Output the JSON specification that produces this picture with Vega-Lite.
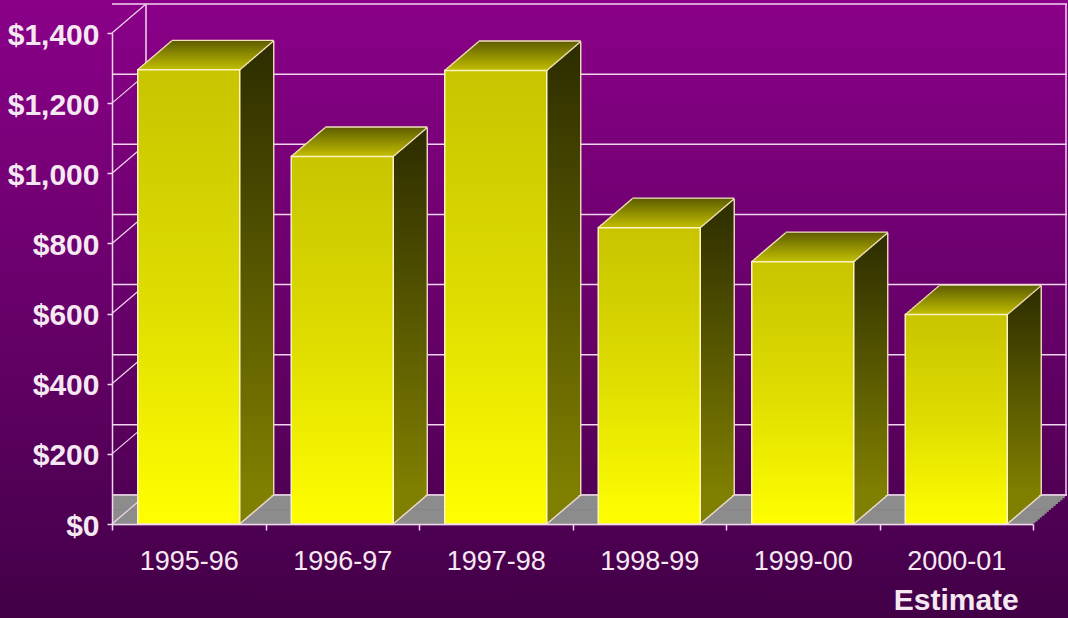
{
  "$schema": "https://vega.github.io/schema/vega-lite/v6.json",
  "width": 921,
  "height": 491,
  "autosize": "none",
  "padding": {"left": 112, "top": 33, "right": 35, "bottom": 94},
  "background": "#5a0062",
  "config": {
    "view": {"stroke": null},
    "axis": {"grid": false, "domainColor": "#f2d6f0", "domainWidth": 1.5, "tickColor": "#f2d6f0", "tickWidth": 1.5, "labelColor": "#f6e8f2", "labelFont": "Liberation Sans"}
  },
  "datasets": {
    "budget": [
      {"year": "1995-96", "value": 1295},
      {"year": "1996-97", "value": 1048},
      {"year": "1997-98", "value": 1293},
      {"year": "1998-99", "value": 845},
      {"year": "1999-00", "value": 748},
      {"year": "2000-01", "value": 597}
    ],
    "grid": [{"v": 0}, {"v": 200}, {"v": 400}, {"v": 600}, {"v": 800}, {"v": 1000}, {"v": 1200}, {"v": 1400}]
  },
  "layer": [
    {
      "data": {"values": [{}]},
      "mark": {"type": "rect", "x": -112, "x2": 956, "y": -33, "y2": 585, "opacity": 1,
        "fill": {"gradient": "linear", "x1": 0, "y1": 0, "x2": 0, "y2": 1, "stops": [{"offset": 0, "color": "#8a0088"}, {"offset": 0.5, "color": "#68006a"}, {"offset": 1, "color": "#420047"}]}},
      "encoding": {}
    },
    {
      "data": {"values": [{}]},
      "layer": [
        {"mark": {"type": "rule", "color": "#8c8c8c", "strokeWidth": 2.6, "xOffset": 0, "yOffset": 0}},
        {"mark": {"type": "rule", "color": "#8c8c8c", "strokeWidth": 2.6, "xOffset": 2.27, "yOffset": -1.93}},
        {"mark": {"type": "rule", "color": "#8c8c8c", "strokeWidth": 2.6, "xOffset": 4.53, "yOffset": -3.87}},
        {"mark": {"type": "rule", "color": "#8c8c8c", "strokeWidth": 2.6, "xOffset": 6.8, "yOffset": -5.8}},
        {"mark": {"type": "rule", "color": "#8c8c8c", "strokeWidth": 2.6, "xOffset": 9.07, "yOffset": -7.73}},
        {"mark": {"type": "rule", "color": "#8c8c8c", "strokeWidth": 2.6, "xOffset": 11.33, "yOffset": -9.67}},
        {"mark": {"type": "rule", "color": "#8c8c8c", "strokeWidth": 2.6, "xOffset": 13.6, "yOffset": -11.6}},
        {"mark": {"type": "rule", "color": "#8c8c8c", "strokeWidth": 2.6, "xOffset": 15.87, "yOffset": -13.53}},
        {"mark": {"type": "rule", "color": "#8c8c8c", "strokeWidth": 2.6, "xOffset": 18.13, "yOffset": -15.47}},
        {"mark": {"type": "rule", "color": "#8c8c8c", "strokeWidth": 2.6, "xOffset": 20.4, "yOffset": -17.4}},
        {"mark": {"type": "rule", "color": "#8c8c8c", "strokeWidth": 2.6, "xOffset": 22.67, "yOffset": -19.33}},
        {"mark": {"type": "rule", "color": "#8c8c8c", "strokeWidth": 2.6, "xOffset": 24.93, "yOffset": -21.27}},
        {"mark": {"type": "rule", "color": "#8c8c8c", "strokeWidth": 2.6, "xOffset": 27.2, "yOffset": -23.2}},
        {"mark": {"type": "rule", "color": "#8c8c8c", "strokeWidth": 2.6, "xOffset": 29.47, "yOffset": -25.13}},
        {"mark": {"type": "rule", "color": "#8c8c8c", "strokeWidth": 2.6, "xOffset": 31.73, "yOffset": -27.07}},
        {"mark": {"type": "rule", "color": "#8c8c8c", "strokeWidth": 2.2, "xOffset": 34, "yOffset": -29}}
      ],
      "encoding": {"y": {"datum": 0, "type": "quantitative"}}
    },
    {
      "data": {"name": "grid"},
      "mark": {"type": "rule", "color": "#f2d6f0", "strokeWidth": 1.5, "xOffset": 34, "yOffset": -29},
      "encoding": {"y": {"field": "v", "type": "quantitative"}}
    },
    {
      "data": {"name": "grid"},
      "mark": {"type": "rule", "color": "#f2d6f0", "strokeWidth": 1.2, "y2Offset": -29},
      "encoding": {"x": {"value": 0}, "x2": {"value": 34}, "y": {"field": "v", "type": "quantitative"}, "y2": {"field": "v"}}
    },
    {
      "data": {"values": [{}]},
      "mark": {"type": "rule", "color": "#f2d6f0", "strokeWidth": 1.5, "xOffset": 34, "yOffset": -29, "y2Offset": -29},
      "encoding": {"x": {"value": 0}, "y": {"datum": 0, "type": "quantitative"}, "y2": {"datum": 1400}}
    },
    {
      "data": {"values": [{}]},
      "mark": {"type": "rule", "color": "#f2d6f0", "strokeWidth": 1.5, "xOffset": 33, "yOffset": -29, "y2Offset": -29},
      "encoding": {"x": {"value": "width"}, "y": {"datum": 0, "type": "quantitative"}, "y2": {"datum": 1400}}
    },
    {
      "data": {"name": "budget"},
      "encoding": {
        "x": {"field": "year", "type": "nominal", "sort": null,
          "scale": {"domain": ["1995-96", "1996-97", "1997-98", "1998-99", "1999-00", "2000-01"], "paddingInner": 0, "paddingOuter": 0},
          "axis": {"zindex": 1, "title": null, "labelAngle": 0, "labelAlign": "center", "labelFontSize": 27, "tickSize": 6, "labelPadding": 18, "tickBand": "extent"}},
        "y": {"field": "value", "type": "quantitative",
          "scale": {"domain": [0, 1400], "nice": false},
          "axis": {"zindex": 1, "title": null, "values": [0, 200, 400, 600, 800, 1000, 1200, 1400], "format": "$,.0f", "labelFontSize": 30, "labelFontWeight": "bold", "tickSize": 5, "labelPadding": 8, "labelOffset": 2}}
      },
      "layer": [
        {"mark": {"type": "bar", "width": 102, "opacity": 1, "xOffset": 2.27, "yOffset": -1.93, "y2Offset": -1.93, "fill": {"gradient": "linear", "x1": 0, "y1": 0, "x2": 0, "y2": 1, "stops": [{"offset": 0, "color": "#2c2c00"}, {"offset": 1, "color": "#808000"}]}}},
        {"mark": {"type": "bar", "width": 102, "opacity": 1, "xOffset": 4.53, "yOffset": -3.87, "y2Offset": -3.87, "fill": {"gradient": "linear", "x1": 0, "y1": 0, "x2": 0, "y2": 1, "stops": [{"offset": 0, "color": "#2c2c00"}, {"offset": 1, "color": "#808000"}]}}},
        {"mark": {"type": "bar", "width": 102, "opacity": 1, "xOffset": 6.8, "yOffset": -5.8, "y2Offset": -5.8, "fill": {"gradient": "linear", "x1": 0, "y1": 0, "x2": 0, "y2": 1, "stops": [{"offset": 0, "color": "#2c2c00"}, {"offset": 1, "color": "#808000"}]}}},
        {"mark": {"type": "bar", "width": 102, "opacity": 1, "xOffset": 9.07, "yOffset": -7.73, "y2Offset": -7.73, "fill": {"gradient": "linear", "x1": 0, "y1": 0, "x2": 0, "y2": 1, "stops": [{"offset": 0, "color": "#2c2c00"}, {"offset": 1, "color": "#808000"}]}}},
        {"mark": {"type": "bar", "width": 102, "opacity": 1, "xOffset": 11.33, "yOffset": -9.67, "y2Offset": -9.67, "fill": {"gradient": "linear", "x1": 0, "y1": 0, "x2": 0, "y2": 1, "stops": [{"offset": 0, "color": "#2c2c00"}, {"offset": 1, "color": "#808000"}]}}},
        {"mark": {"type": "bar", "width": 102, "opacity": 1, "xOffset": 13.6, "yOffset": -11.6, "y2Offset": -11.6, "fill": {"gradient": "linear", "x1": 0, "y1": 0, "x2": 0, "y2": 1, "stops": [{"offset": 0, "color": "#2c2c00"}, {"offset": 1, "color": "#808000"}]}}},
        {"mark": {"type": "bar", "width": 102, "opacity": 1, "xOffset": 15.87, "yOffset": -13.53, "y2Offset": -13.53, "fill": {"gradient": "linear", "x1": 0, "y1": 0, "x2": 0, "y2": 1, "stops": [{"offset": 0, "color": "#2c2c00"}, {"offset": 1, "color": "#808000"}]}}},
        {"mark": {"type": "bar", "width": 102, "opacity": 1, "xOffset": 18.13, "yOffset": -15.47, "y2Offset": -15.47, "fill": {"gradient": "linear", "x1": 0, "y1": 0, "x2": 0, "y2": 1, "stops": [{"offset": 0, "color": "#2c2c00"}, {"offset": 1, "color": "#808000"}]}}},
        {"mark": {"type": "bar", "width": 102, "opacity": 1, "xOffset": 20.4, "yOffset": -17.4, "y2Offset": -17.4, "fill": {"gradient": "linear", "x1": 0, "y1": 0, "x2": 0, "y2": 1, "stops": [{"offset": 0, "color": "#2c2c00"}, {"offset": 1, "color": "#808000"}]}}},
        {"mark": {"type": "bar", "width": 102, "opacity": 1, "xOffset": 22.67, "yOffset": -19.33, "y2Offset": -19.33, "fill": {"gradient": "linear", "x1": 0, "y1": 0, "x2": 0, "y2": 1, "stops": [{"offset": 0, "color": "#2c2c00"}, {"offset": 1, "color": "#808000"}]}}},
        {"mark": {"type": "bar", "width": 102, "opacity": 1, "xOffset": 24.93, "yOffset": -21.27, "y2Offset": -21.27, "fill": {"gradient": "linear", "x1": 0, "y1": 0, "x2": 0, "y2": 1, "stops": [{"offset": 0, "color": "#2c2c00"}, {"offset": 1, "color": "#808000"}]}}},
        {"mark": {"type": "bar", "width": 102, "opacity": 1, "xOffset": 27.2, "yOffset": -23.2, "y2Offset": -23.2, "fill": {"gradient": "linear", "x1": 0, "y1": 0, "x2": 0, "y2": 1, "stops": [{"offset": 0, "color": "#2c2c00"}, {"offset": 1, "color": "#808000"}]}}},
        {"mark": {"type": "bar", "width": 102, "opacity": 1, "xOffset": 29.47, "yOffset": -25.13, "y2Offset": -25.13, "fill": {"gradient": "linear", "x1": 0, "y1": 0, "x2": 0, "y2": 1, "stops": [{"offset": 0, "color": "#2c2c00"}, {"offset": 1, "color": "#808000"}]}}},
        {"mark": {"type": "bar", "width": 102, "opacity": 1, "xOffset": 31.73, "yOffset": -27.07, "y2Offset": -27.07, "fill": {"gradient": "linear", "x1": 0, "y1": 0, "x2": 0, "y2": 1, "stops": [{"offset": 0, "color": "#2c2c00"}, {"offset": 1, "color": "#808000"}]}}},
        {"mark": {"type": "bar", "width": 102, "opacity": 1, "xOffset": 34, "yOffset": -29, "y2Offset": -29, "fill": {"gradient": "linear", "x1": 0, "y1": 0, "x2": 0, "y2": 1, "stops": [{"offset": 0, "color": "#2c2c00"}, {"offset": 1, "color": "#808000"}]}}},
        {"mark": {"type": "tick", "orient": "horizontal", "size": 102, "thickness": 2.8, "opacity": 1, "color": "#c4c000", "xOffset": 0, "yOffset": 0}},
        {"mark": {"type": "tick", "orient": "horizontal", "size": 102, "thickness": 2.8, "opacity": 1, "color": "#bdba00", "xOffset": 2.27, "yOffset": -1.93}},
        {"mark": {"type": "tick", "orient": "horizontal", "size": 102, "thickness": 2.8, "opacity": 1, "color": "#b7b300", "xOffset": 4.53, "yOffset": -3.87}},
        {"mark": {"type": "tick", "orient": "horizontal", "size": 102, "thickness": 2.8, "opacity": 1, "color": "#b0ad00", "xOffset": 6.8, "yOffset": -5.8}},
        {"mark": {"type": "tick", "orient": "horizontal", "size": 102, "thickness": 2.8, "opacity": 1, "color": "#a9a600", "xOffset": 9.07, "yOffset": -7.73}},
        {"mark": {"type": "tick", "orient": "horizontal", "size": 102, "thickness": 2.8, "opacity": 1, "color": "#a3a000", "xOffset": 11.33, "yOffset": -9.67}},
        {"mark": {"type": "tick", "orient": "horizontal", "size": 102, "thickness": 2.8, "opacity": 1, "color": "#9c9a00", "xOffset": 13.6, "yOffset": -11.6}},
        {"mark": {"type": "tick", "orient": "horizontal", "size": 102, "thickness": 2.8, "opacity": 1, "color": "#959300", "xOffset": 15.87, "yOffset": -13.53}},
        {"mark": {"type": "tick", "orient": "horizontal", "size": 102, "thickness": 2.8, "opacity": 1, "color": "#8f8d00", "xOffset": 18.13, "yOffset": -15.47}},
        {"mark": {"type": "tick", "orient": "horizontal", "size": 102, "thickness": 2.8, "opacity": 1, "color": "#888600", "xOffset": 20.4, "yOffset": -17.4}},
        {"mark": {"type": "tick", "orient": "horizontal", "size": 102, "thickness": 2.8, "opacity": 1, "color": "#818000", "xOffset": 22.67, "yOffset": -19.33}},
        {"mark": {"type": "tick", "orient": "horizontal", "size": 102, "thickness": 2.8, "opacity": 1, "color": "#7b7a00", "xOffset": 24.93, "yOffset": -21.27}},
        {"mark": {"type": "tick", "orient": "horizontal", "size": 102, "thickness": 2.8, "opacity": 1, "color": "#747300", "xOffset": 27.2, "yOffset": -23.2}},
        {"mark": {"type": "tick", "orient": "horizontal", "size": 102, "thickness": 2.8, "opacity": 1, "color": "#6d6d00", "xOffset": 29.47, "yOffset": -25.13}},
        {"mark": {"type": "tick", "orient": "horizontal", "size": 102, "thickness": 2.8, "opacity": 1, "color": "#676600", "xOffset": 31.73, "yOffset": -27.07}},
        {"mark": {"type": "tick", "orient": "horizontal", "size": 102, "thickness": 2.2, "opacity": 1, "color": "#606000", "xOffset": 34, "yOffset": -28.6}},
        {"mark": {"type": "tick", "orient": "horizontal", "size": 102, "thickness": 1.4, "opacity": 1, "color": "#f2e0c0", "xOffset": 34, "yOffset": -29.5}},
        {"mark": {"type": "rule", "color": "#f2e0c0", "strokeWidth": 1.4, "xOffset": 85, "yOffset": -29, "y2Offset": -29}, "encoding": {"y2": {"datum": 0}}},
        {"mark": {"type": "rule", "color": "#f2e0c0", "strokeWidth": 1.3, "xOffset": -51, "x2Offset": -17, "y2Offset": -29}, "encoding": {"x2": {"field": "year"}, "y2": {"field": "value"}}},
        {"mark": {"type": "rule", "color": "#f2e0c0", "strokeWidth": 1.3, "xOffset": 51, "x2Offset": 85, "y2Offset": -29}, "encoding": {"x2": {"field": "year"}, "y2": {"field": "value"}}},
        {"mark": {"type": "bar", "width": 102, "opacity": 1, "stroke": "#fff4c0", "strokeWidth": 1.5,
          "fill": {"gradient": "linear", "x1": 0, "y1": 0, "x2": 0, "y2": 1, "stops": [{"offset": 0, "color": "#c8c400"}, {"offset": 0.5, "color": "#dedc00"}, {"offset": 1, "color": "#ffff00"}]}}}
      ]
    },
    {
      "data": {"name": "budget"},
      "mark": {"type": "rule", "color": "#f2e0c0", "strokeWidth": 1.3, "xOffset": 51, "x2Offset": 85, "y2Offset": -29},
      "encoding": {"x": {"field": "year", "type": "nominal"}, "x2": {"field": "year"}, "y": {"datum": 0, "type": "quantitative"}, "y2": {"datum": 0}}
    },
    {
      "data": {"values": [{"year": "2000-01"}]},
      "mark": {"type": "text", "text": "Estimate", "font": "Liberation Sans", "fontWeight": "bold", "fontSize": 30, "color": "#f6e8f2", "baseline": "alphabetic", "align": "center", "dy": 86},
      "encoding": {"x": {"field": "year", "type": "nominal"}, "y": {"datum": 0, "type": "quantitative"}}
    }
  ]
}
